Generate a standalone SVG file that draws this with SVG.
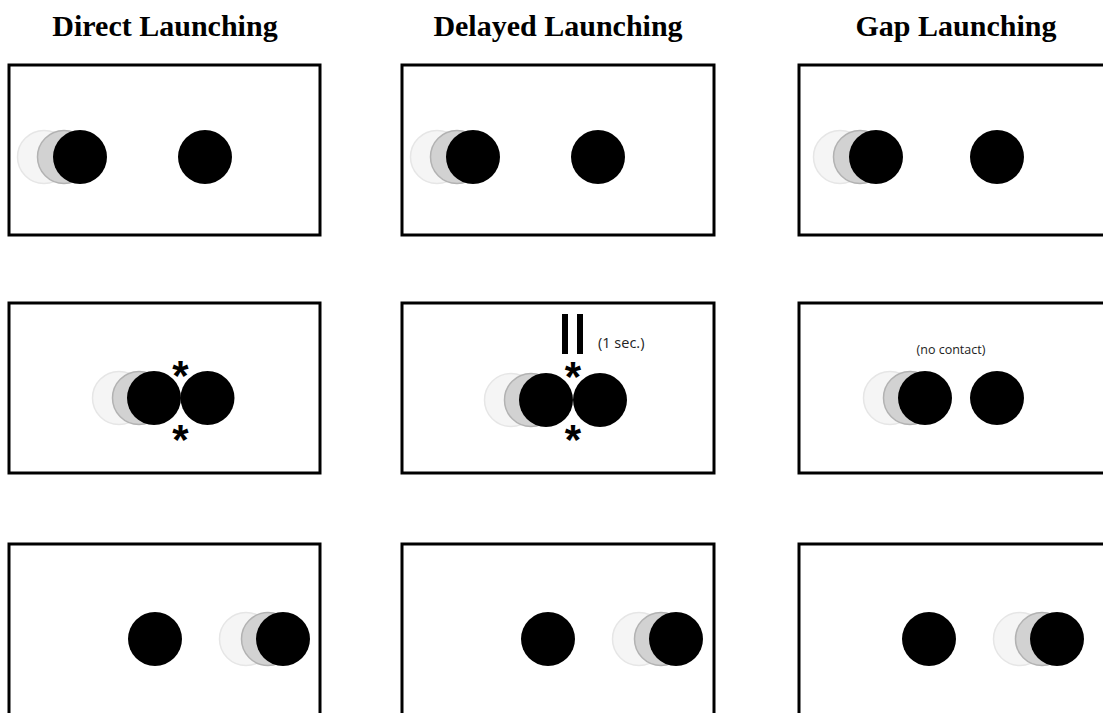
<svg xmlns="http://www.w3.org/2000/svg" width="1103" height="713" viewBox="0 0 1103 713">
<style>
.panel{fill:#fff;stroke:#000;stroke-width:3}
.title{font-family:"Liberation Serif","Times New Roman",serif;font-weight:bold;font-size:30px;text-anchor:middle;fill:#000}
.ball{fill:#000}
.g1{fill:#f5f5f5;stroke:#e6e6e6;stroke-width:1.5}
.g2{fill:#d2d2d2;stroke:#b2b2b2;stroke-width:1.5}
.ast{font-family:"Liberation Sans",Arial,sans-serif;font-weight:bold;font-size:42px;text-anchor:middle;fill:#000}
.note{font-family:"Open Sans","Noto Sans",sans-serif;fill:#222}
</style>
<rect width="1103" height="713" fill="#fff"/>
<g id="titles">
<text class="title" x="165" y="36">Direct Launching</text>
<text class="title" x="558" y="36">Delayed Launching</text>
<text class="title" x="956" y="36">Gap Launching</text>
</g>
<g id="direct-1">
<rect class="panel" x="9" y="65" width="311" height="170"/>
<circle class="g1" cx="44" cy="157" r="26.5"/>
<circle class="g2" cx="64" cy="157" r="26.5"/>
<circle class="ball" cx="80" cy="157" r="27"/>
<circle class="ball" cx="205" cy="157" r="27"/>
</g>
<g id="delayed-1">
<rect class="panel" x="402" y="65" width="312" height="170"/>
<circle class="g1" cx="437" cy="157" r="26.5"/>
<circle class="g2" cx="457" cy="157" r="26.5"/>
<circle class="ball" cx="473" cy="157" r="27"/>
<circle class="ball" cx="598" cy="157" r="27"/>
</g>
<g id="gap-1">
<rect class="panel" x="799" y="65" width="320" height="170"/>
<circle class="g1" cx="840" cy="157" r="26.5"/>
<circle class="g2" cx="860" cy="157" r="26.5"/>
<circle class="ball" cx="876" cy="157" r="27"/>
<circle class="ball" cx="997" cy="157" r="27"/>
</g>
<g id="direct-2">
<rect class="panel" x="9" y="303" width="311" height="170"/>
<circle class="g1" cx="119" cy="398" r="26.5"/>
<circle class="g2" cx="139" cy="398" r="26.5"/>
<circle class="ball" cx="154" cy="398" r="27"/>
<circle class="ball" cx="207.5" cy="398" r="27"/>
<text class="ast" x="180.5" y="390">*</text>
<text class="ast" x="180.5" y="454">*</text>
</g>
<g id="delayed-2">
<rect class="panel" x="402" y="303" width="312" height="170"/>
<circle class="g1" cx="511" cy="400" r="26.5"/>
<circle class="g2" cx="531" cy="400" r="26.5"/>
<circle class="ball" cx="546" cy="400" r="27"/>
<circle class="ball" cx="600" cy="400" r="27"/>
<rect x="562" y="314" width="6" height="40" fill="#000"/>
<rect x="577" y="314" width="6" height="40" fill="#000"/>
<text class="note" x="598" y="348" font-size="14.5">(1 sec.)</text>
<text class="ast" x="573" y="391">*</text>
<text class="ast" x="573" y="454">*</text>
</g>
<g id="gap-2">
<rect class="panel" x="799" y="303" width="320" height="170"/>
<circle class="g1" cx="890" cy="398" r="26.5"/>
<circle class="g2" cx="910" cy="398" r="26.5"/>
<circle class="ball" cx="925" cy="398" r="27"/>
<circle class="ball" cx="997" cy="398" r="27"/>
<text class="note" x="951" y="354" text-anchor="middle" font-size="12.5">(no contact)</text>
</g>
<g id="direct-3">
<rect class="panel" x="9" y="544" width="311" height="180"/>
<circle class="ball" cx="155" cy="639" r="27"/>
<circle class="g1" cx="246" cy="639" r="26.5"/>
<circle class="g2" cx="268" cy="639" r="26.5"/>
<circle class="ball" cx="283" cy="639" r="27"/>
</g>
<g id="delayed-3">
<rect class="panel" x="402" y="544" width="312" height="180"/>
<circle class="ball" cx="548" cy="639" r="27"/>
<circle class="g1" cx="639" cy="639" r="26.5"/>
<circle class="g2" cx="661" cy="639" r="26.5"/>
<circle class="ball" cx="676" cy="639" r="27"/>
</g>
<g id="gap-3">
<rect class="panel" x="799" y="544" width="320" height="180"/>
<circle class="ball" cx="929" cy="639" r="27"/>
<circle class="g1" cx="1020" cy="639" r="26.5"/>
<circle class="g2" cx="1042" cy="639" r="26.5"/>
<circle class="ball" cx="1057" cy="639" r="27"/>
</g>
</svg>
